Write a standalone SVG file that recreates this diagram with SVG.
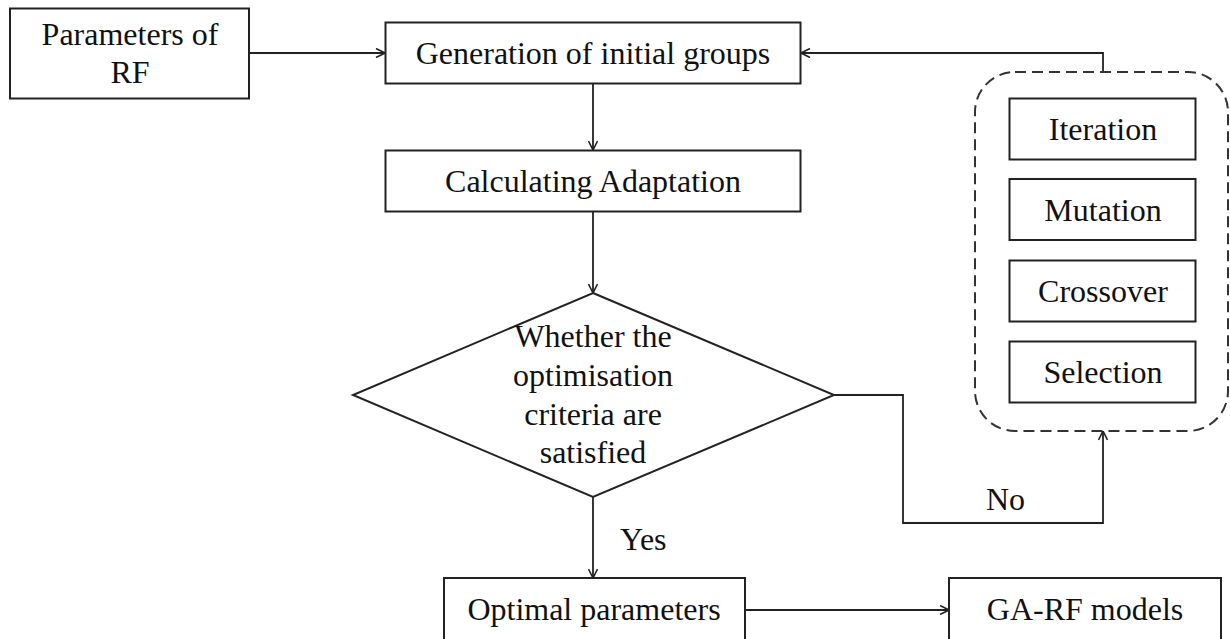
<svg xmlns="http://www.w3.org/2000/svg" width="1230" height="639" viewBox="0 0 1230 639">
<style>
.box{fill:#fff;stroke:#222;stroke-width:2}
.dash{fill:none;stroke:#333;stroke-width:2;stroke-dasharray:11 6}
.t{font-family:"Liberation Serif","Times New Roman",serif;font-size:32px;fill:#111;text-anchor:middle}
.lbl{font-family:"Liberation Serif","Times New Roman",serif;font-size:32px;fill:#111}
.c{fill:none;stroke:#222;stroke-width:1.8}
</style>
<defs>
<marker id="arr" viewBox="0 0 10 10" refX="10" refY="5" markerWidth="10" markerHeight="10" markerUnits="userSpaceOnUse" orient="auto">
<path d="M1,0.5 L10,5 L1,9.5" fill="none" stroke="#222" stroke-width="1.6"/>
</marker>
</defs>
<rect width="1230" height="639" fill="#fff"/>
<g id="connectors">
<path class="c" d="M249,53 H385" marker-end="url(#arr)"/>
<path class="c" d="M1103,72 V53 H801" marker-end="url(#arr)"/>
<path class="c" d="M593,83 V150" marker-end="url(#arr)"/>
<path class="c" d="M593,211 V293" marker-end="url(#arr)"/>
<path class="c" d="M593,497 V578" marker-end="url(#arr)"/>
<path class="c" d="M834,395 H903 V523 H1103 V431" marker-end="url(#arr)"/>
<path class="c" d="M745,610 H949" marker-end="url(#arr)"/>
<text class="lbl" x="620" y="550">Yes</text>
<text class="lbl" x="986" y="510">No</text>
</g>
<g id="params">
<rect class="box" x="10" y="8.5" width="239" height="90"/>
<text class="t" x="130" y="45">Parameters of</text>
<text class="t" x="130" y="83">RF</text>
</g>
<g id="generation">
<rect class="box" x="385.5" y="22.5" width="415" height="61"/>
<text class="t" x="593" y="64">Generation of initial groups</text>
</g>
<g id="calculating">
<rect class="box" x="385.5" y="150.5" width="415" height="61"/>
<text class="t" x="593" y="192">Calculating Adaptation</text>
</g>
<g id="decision">
<polygon class="box" points="593,293 834,395 593,497 353,395"/>
<text class="t" x="593" y="347">Whether the</text>
<text class="t" x="593" y="386">optimisation</text>
<text class="t" x="593" y="425">criteria are</text>
<text class="t" x="593" y="463">satisfied</text>
</g>
<g id="ga-operations">
<rect class="dash" x="975" y="72" width="253" height="359" rx="40" ry="40"/>
</g>
<g id="iteration">
<rect class="box" x="1009.5" y="98.5" width="186" height="61"/>
<text class="t" x="1103" y="140">Iteration</text>
</g>
<g id="mutation">
<rect class="box" x="1009.5" y="179" width="186" height="61"/>
<text class="t" x="1103" y="221">Mutation</text>
</g>
<g id="crossover">
<rect class="box" x="1009.5" y="260.5" width="186" height="61"/>
<text class="t" x="1103" y="302">Crossover</text>
</g>
<g id="selection">
<rect class="box" x="1009.5" y="341.5" width="186" height="61"/>
<text class="t" x="1103" y="383">Selection</text>
</g>
<g id="optimal">
<rect class="box" x="444" y="578" width="301" height="64"/>
<text class="t" x="594" y="620">Optimal parameters</text>
</g>
<g id="gamodels">
<rect class="box" x="949" y="578" width="272" height="64"/>
<text class="t" x="1085" y="620">GA-RF models</text>
</g>
</svg>
